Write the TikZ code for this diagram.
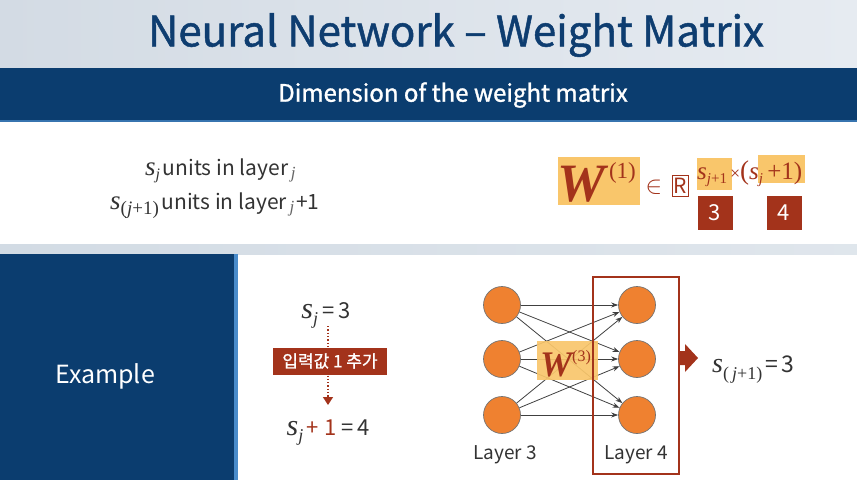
\documentclass[tikz,border=0pt]{standalone}
\usepackage{fontspec}
\setmainfont{Noto Sans CJK KR}
\newfontfamily\tms{Liberation Serif}
\newfontfamily\heavy[FakeBold=1.2]{Noto Sans CJK KR}
\usetikzlibrary{arrows.meta}
\definecolor{navy}{HTML}{0B3D6F}
\definecolor{titleblue}{HTML}{0E3D70}
\definecolor{dred}{HTML}{A3331B}
\definecolor{hl}{HTML}{F9C66B}
\definecolor{orng}{HTML}{EF8130}
\definecolor{txt}{HTML}{333333}
\definecolor{bgl}{HTML}{D3DBE4}
\definecolor{bgr}{HTML}{E6EBF1}
\definecolor{sepc}{HTML}{D2DBE4}
\definecolor{strip}{HTML}{4A8CCB}
\newcommand\fs[1]{\fontsize{#1}{#1}\selectfont}
\newcommand\si[1]{{\tms\itshape #1}}
\begin{document}
\begin{tikzpicture}[x=1pt,y=-1pt,
  lbl/.style={inner sep=0pt,text=txt},
  neuron/.style={circle,minimum size=37pt,inner sep=0pt,fill=orng,draw=black!55,line width=0.7pt},
  conn/.style={draw=black!75,line width=0.8pt,-{Stealth[length=7pt,width=5pt]}},
  hlbox/.style={fill=hl},
  numbox/.style={fill=dred,text=white,inner sep=0pt,minimum width=35pt,minimum height=34pt,font=\fs{22}}]
\useasboundingbox (0,0) rectangle (857,480);
% backgrounds
\shade[left color=bgl, right color=bgr] (0,0) rectangle (857,68);
\fill[navy] (0,68) rectangle (857,120);
\fill[strip!70!navy] (0,120) rectangle (857,121.5);
\fill[white] (0,121.5) rectangle (857,244);
\shade[left color=sepc, right color=sepc!70!white] (0,244) rectangle (857,254);
\fill[navy] (0,254) rectangle (234,480);
\fill[strip] (234,254) rectangle (238,480);
% titles
\node[inner sep=0pt,text=titleblue,font=\heavy\fs{42}] (title) at (456,35) {Neural Network – Weight Matrix};
\node[inner sep=0pt,text=white,font=\heavy\fs{24}] (sub) at (453,95) {Dimension of the weight matrix};
% definitions
\node[lbl,anchor=base west] (def1) at (145,175) {\si{\fs{27}s}\raisebox{-4pt}{\si{\fs{16}j}}\;{\fs{21}units in layer}\;\raisebox{-3pt}{\si{\fs{17}\color{black!60}j}}};
\node[lbl,anchor=base west] (def2) at (110,209) {\si{\fs{27}s}\raisebox{-5pt}{{\tms\fs{19}(\textit{j}+1)}}\;{\fs{21}units in layer}\;\raisebox{-3pt}{\si{\fs{17}\color{black!60}j}}\,{\fs{21}+1}};
% formula
\fill[hlbox] (558,157) rectangle (640,205);
\fill[hlbox] (697,158) rectangle (732,190);
\fill[hlbox] (758,155) rectangle (805,183);
\node[inner sep=0pt,anchor=base west,text=dred] (W1) at (557,201) {{\tms\bfseries\itshape\fs{54}W}\raisebox{23pt}{{\tms\fs{23}\,(1)}}};
\node[inner sep=0pt,text=dred,font=\fs{34}] (in) at (654,187) {$\in$};
\node[inner sep=1pt,draw=dred,line width=0.6pt,text=dred,font=\fs{21},minimum width=16pt,minimum height=21pt] (R) at (680,186) {R};
\node[inner sep=0pt,anchor=base west,text=dred] (dim) at (697,179) {\si{\fs{25}s}\raisebox{-4pt}{{\tms\fs{15}\textit{j}+1}}{\tms\fs{18}\,×}{\tms\fs{27}(}\si{\fs{25}s}\raisebox{-4pt}{\si{\fs{15}j}}{\tms\fs{25}\,+1)}};
\node[numbox] (n3) at (715,213) {3};
\node[numbox] (n4) at (784,213) {4};
% example
\node[inner sep=0pt,text=white,font=\fs{25}] (ex) at (105,376) {Example};
\node[lbl,anchor=base] (sj) at (326,318) {\si{\fs{30}s}\raisebox{-6pt}{\si{\fs{18}j}}\;\,{\fs{22}=\,3}};
\node[lbl,anchor=base] (sj1) at (328,435) {\si{\fs{30}s}\raisebox{-6pt}{\si{\fs{18}j}}\;{\fs{22}\color{dred}+\;1}\;\,{\fs{22}=\,4}};
\coordinate (dtop) at (328,326);
\coordinate (dbot) at (328,405);
\draw[dred,dotted,line width=1.3pt,-{Triangle[length=8pt,width=10pt]}] (dtop) -- (dbot);
\node[fill=dred,text=white,font=\heavy\fs{17},minimum width=114pt,minimum height=27pt,inner sep=0pt] (add) at (330,361) {입력값 1 추가};
% network
\foreach \i/\y in {1/305,2/359,3/415}{
  \node[neuron] (a\i) at (502,\y) {};
  \node[neuron] (b\i) at (637,\y) {};
}
\foreach \i in {1,2,3}{\foreach \j in {1,2,3}{\draw[conn] (a\i) -- (b\j);}}
\fill[hl,opacity=0.92] (537,341) rectangle (598,380);
\node[inner sep=0pt,anchor=base west,text=dred] (W3) at (540,376) {{\tms\bfseries\itshape\fs{36}W}\raisebox{15pt}{{\tms\fs{16}(3)}}};
\node[lbl,font=\fs{19}] (l3) at (505,455) {Layer 3};
\node[lbl,font=\fs{19}] (l4) at (636,455) {Layer 4};
\draw[dred,line width=1.3pt] (593,277) rectangle (679,474);
\fill[dred] (679,351) -- (685,351) -- (685,344) -- (698,358) -- (685,372) -- (685,365) -- (679,365) -- cycle;
\node[lbl,anchor=base west] (res) at (712,372) {\si{\fs{28}s}\raisebox{-7pt}{{\tms\fs{18}(\,\textit{j}+1)}}\;{\fs{23}=\,3}};
\end{tikzpicture}
\end{document}
